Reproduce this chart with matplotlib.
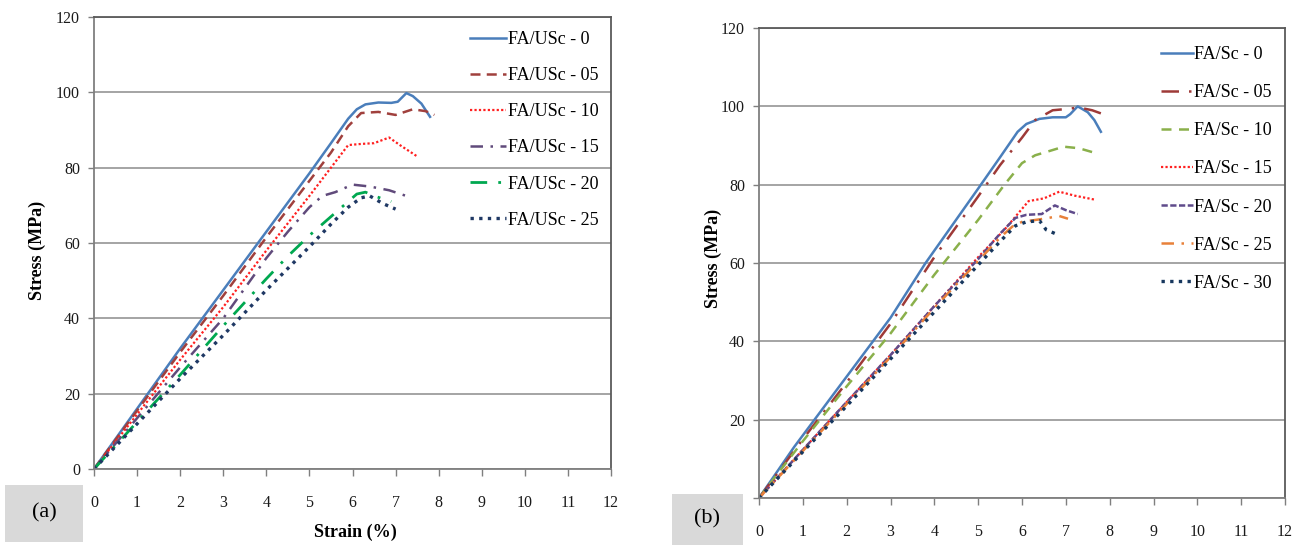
import matplotlib.pyplot as plt
from matplotlib.patches import Rectangle

plt.rcParams["font.family"] = ["Liberation Serif", "DejaVu Serif"]

W, H = 1298, 545

# =========================================================
# DATA  (a) FA/USc
# =========================================================

usc_labels = ["FA/USc - 0", "FA/USc - 05", "FA/USc - 10",
              "FA/USc - 15", "FA/USc - 20", "FA/USc - 25"]

usc0_x = [0, 0.5, 1, 2, 3, 4, 5, 5.5, 5.9, 6.1, 6.3, 6.6, 6.9, 7.05, 7.25, 7.4, 7.6, 7.8]
usc0_y = [0, 8, 16, 32, 47.5, 63, 78.5, 86.5, 93, 95.5, 96.8, 97.3, 97.2, 97.5, 99.8, 99, 97, 93.5]

usc05_x = [0, 1, 2, 3, 4, 5, 5.5, 5.9, 6.2, 6.6, 7.0, 7.4, 7.7, 7.9]
usc05_y = [0, 15.5, 31, 46, 61.5, 76.5, 84, 91, 94.5, 94.8, 94, 95.5, 95, 94]

usc10_x = [0, 1, 2, 3, 4, 5, 5.5, 5.9, 6.2, 6.5, 6.85, 7.1, 7.5]
usc10_y = [0, 14.5, 29, 43, 58, 72.5, 80, 86, 86.3, 86.5, 88, 86, 83]

usc15_x = [0, 1, 2, 3, 4, 4.5, 5, 5.3, 5.6, 6.0, 6.4, 6.85, 7.3]
usc15_y = [0, 13.5, 27, 40, 56, 63, 69.5, 72.5, 73.5, 75.5, 75, 74, 72.3]

usc20_x = [0, 1, 2, 3, 4, 4.5, 5, 5.5, 5.8, 6.1, 6.3, 6.5, 6.9]
usc20_y = [0, 12.5, 25, 38, 50.5, 56.5, 62, 67, 70, 73, 73.5, 72.5, 71]

usc25_x = [0, 1, 2, 3, 4, 5, 5.5, 5.9, 6.2, 6.4, 6.7, 7.0]
usc25_y = [0, 12, 24, 35.5, 47.5, 59, 65, 69.5, 72, 72.5, 70.5, 69]

# =========================================================
# DATA  (b) FA/Sc
# =========================================================

sc_labels = ["FA/Sc - 0", "FA/Sc - 05", "FA/Sc - 10", "FA/Sc - 15",
             "FA/Sc - 20", "FA/Sc - 25", "FA/Sc - 30"]

sc0_x = [0, 0.8, 2, 3, 3.8, 5, 5.5, 5.9, 6.1, 6.4, 6.7, 7.0, 7.1, 7.27, 7.5, 7.65, 7.8]
sc0_y = [0, 13, 31, 46, 60, 79, 87, 93.5, 95.5, 96.8, 97.2, 97.2, 98, 100, 98.5, 96.5, 93.5]

sc05_x = [0, 1, 2, 3, 4, 5, 5.5, 6.0, 6.3, 6.7, 7.0, 7.3, 7.6, 7.9]
sc05_y = [0, 15, 29.5, 44.5, 61.5, 77, 85, 92, 96.5, 99, 99.3, 99.7, 99, 97.8]

sc10_x = [0, 1, 2, 3, 4, 5, 5.6, 6.0, 6.3, 6.6, 6.95, 7.3, 7.7]
sc10_y = [0, 14.5, 28.5, 42, 57, 71, 80, 85.5, 87.5, 88.5, 89.7, 89.3, 88]

sc15_x = [0, 1, 2, 3, 4, 5, 5.6, 5.9, 6.15, 6.5, 6.85, 7.2, 7.65]
sc15_y = [0, 12.3, 24.5, 36.5, 49, 61.5, 68.5, 72.5, 75.8, 76.5, 78.2, 77.2, 76.2]

sc20_x = [0, 1, 2, 3, 4, 5, 5.5, 5.85, 6.1, 6.45, 6.75, 7.0, 7.27]
sc20_y = [0, 12.3, 24.5, 36.5, 49, 61, 67.5, 71.5, 72.3, 72.5, 74.7, 73.5, 72.5]

sc25_x = [0, 1, 2, 3, 4, 5, 5.5, 5.8, 6.0, 6.5, 6.85, 7.05]
sc25_y = [0, 12, 24, 36, 48.5, 60.5, 66.5, 69.5, 70.5, 71.3, 72, 71.3]

sc30_x = [0, 1, 2, 3, 4, 5, 5.5, 5.85, 6.1, 6.4, 6.55, 6.8]
sc30_y = [0, 11.8, 23.5, 35.5, 47.5, 59.5, 65.5, 69.5, 70.5, 70.8, 68.5, 67.3]

x_ticks = list(range(0, 13))
y_ticks = [0, 20, 40, 60, 80, 100, 120]

# =========================================================
# STYLES
# =========================================================

usc_styles = [
    dict(color="#4A7EBB", linestyle="-", linewidth=1.8),
    dict(color="#A0403D", linestyle=(0, (4, 2.5)), linewidth=1.8),
    dict(color="#FF2020", linestyle=(0, (1, 1)), linewidth=1.6),
    dict(color="#604A7B", linestyle=(0, (5, 3, 1, 3)), linewidth=1.8),
    dict(color="#00A850", linestyle=(0, (6, 4, 1, 4)), linewidth=2.0),
    dict(color="#1F3864", linestyle=(0, (1, 1.6)), linewidth=2.4),
]

sc_styles = [
    dict(color="#4A7EBB", linestyle="-", linewidth=1.8),
    dict(color="#9E3A38", linestyle=(0, (7, 4, 1, 4)), linewidth=1.8),
    dict(color="#8AB04B", linestyle=(0, (4, 3)), linewidth=1.8),
    dict(color="#FF2020", linestyle=(0, (1, 1)), linewidth=1.6),
    dict(color="#5F4B8B", linestyle=(0, (2.5, 1)), linewidth=1.8),
    dict(color="#E8813A", linestyle=(0, (5, 3, 1, 3)), linewidth=1.8),
    dict(color="#17375E", linestyle=(0, (1, 1.6)), linewidth=2.4),
]


def fx(px):
    return px / W


def fy(py):
    return 1 - py / H


def style_axes(ax, show_zero):
    ax.set_xlim(0, 12)
    ax.set_ylim(0, 120)
    ax.set_xticks(x_ticks)
    ax.set_yticks(y_ticks)
    ylabels = [str(v) for v in y_ticks]
    if not show_zero:
        ylabels[0] = ""
    ax.set_yticklabels(ylabels)
    ax.yaxis.grid(True, color="#8C8C8C", linewidth=1.1)
    ax.set_axisbelow(True)
    for s in ax.spines.values():
        s.set_color("#7F7F7F")
        s.set_linewidth(1.3)
    ax.spines["top"].set_color("#5A5A5A")
    ax.spines["right"].set_color("#5A5A5A")
    ax.tick_params(axis="x", direction="out", length=5, width=1, color="#7F7F7F",
                   pad=14, labelsize=11.5, labelcolor="#1A1A1A")
    ax.tick_params(axis="y", direction="out", length=4, width=1, color="#7F7F7F",
                   pad=6, labelsize=11.5, labelcolor="#1A1A1A")


fig = plt.figure(figsize=(W / 100, H / 100), dpi=100)

# ---------------- panel (a) ----------------
ax1 = fig.add_axes([fx(94), fy(469), (611 - 94) / W, (469 - 17) / H])
usc_x = [usc0_x, usc05_x, usc10_x, usc15_x, usc20_x, usc25_x]
usc_y = [usc0_y, usc05_y, usc10_y, usc15_y, usc20_y, usc25_y]
for xs, ys, lab, st in zip(usc_x, usc_y, usc_labels, usc_styles):
    ax1.plot(xs, ys, label=lab, **st)
style_axes(ax1, True)
ax1.legend(loc="upper left", bbox_to_anchor=(fx(470), fy(31)),
           bbox_transform=fig.transFigure, frameon=False, fontsize=13,
           handlelength=2.0, handletextpad=0.1, labelspacing=1.06,
           borderaxespad=0, borderpad=0)

# ---------------- panel (b) ----------------
ax2 = fig.add_axes([fx(759), fy(498), (1285 - 759) / W, (498 - 28) / H])
sc_x = [sc0_x, sc05_x, sc10_x, sc15_x, sc20_x, sc25_x, sc30_x]
sc_y = [sc0_y, sc05_y, sc10_y, sc15_y, sc20_y, sc25_y, sc30_y]
for xs, ys, lab, st in zip(sc_x, sc_y, sc_labels, sc_styles):
    ax2.plot(xs, ys, label=lab, **st)
style_axes(ax2, False)
ax2.legend(loc="upper left", bbox_to_anchor=(fx(1161), fy(46)),
           bbox_transform=fig.transFigure, frameon=False, fontsize=13,
           handlelength=1.75, handletextpad=0.1, labelspacing=1.17,
           borderaxespad=0, borderpad=0)

# ---------------- labels ----------------
fig.text(fx(37), fy(250), "Stress (MPa)", rotation=90, fontsize=13,
         fontweight="bold", ha="center", va="center")
fig.text(fx(713), fy(258), "Stress (MPa)", rotation=90, fontsize=13,
         fontweight="bold", ha="center", va="center")
fig.text(fx(355), fy(532), "Strain (%)", fontsize=13, fontweight="bold",
         ha="center", va="center")

# ---------------- panel tags ----------------
fig.patches.append(Rectangle((fx(5), fy(542)), (83 - 5) / W, (542 - 485) / H,
                             transform=fig.transFigure, facecolor="#D9D9D9",
                             edgecolor="none"))
fig.patches.append(Rectangle((fx(672), fy(545)), (743 - 672) / W, (545 - 494) / H,
                             transform=fig.transFigure, facecolor="#D9D9D9",
                             edgecolor="none"))
fig.text(fx(44), fy(513), "(a)", fontsize=16, ha="center", va="center")
fig.text(fx(707), fy(519), "(b)", fontsize=16, ha="center", va="center")

fig.savefig("out.png", dpi=100)
